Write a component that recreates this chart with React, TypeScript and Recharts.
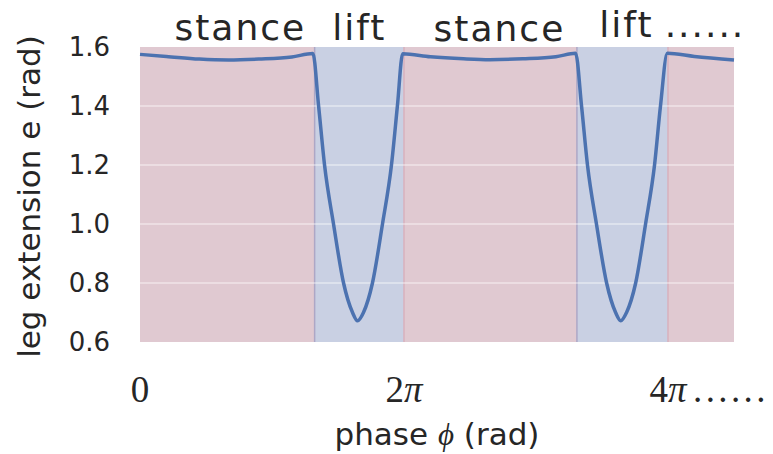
import { LineChart, Line, XAxis, YAxis, ReferenceArea, ReferenceLine } from 'recharts'

// phase in units of π, leg extension e in rad
const PHASE = [
  0, 0.2, 0.45, 0.67, 0.9, 1.15, 1.31,
  1.353, 1.398, 1.466, 1.542, 1.61, 1.648, 1.693, 1.761, 1.837, 1.905, 1.95, 1.99,
  2.2, 2.45, 2.65, 2.9, 3.15, 3.3,
  3.345, 3.39, 3.458, 3.535, 3.603, 3.642, 3.686, 3.755, 3.83, 3.898, 3.943, 3.995,
  4.2, 4.5,
]
const EXTENSION = [
  1.575, 1.568, 1.559, 1.556, 1.559, 1.566, 1.578,
  1.4, 1.2, 1.0, 0.8, 0.7, 0.672, 0.7, 0.8, 1.0, 1.2, 1.4, 1.577,
  1.567, 1.56, 1.557, 1.56, 1.567, 1.579,
  1.4, 1.2, 1.0, 0.8, 0.7, 0.672, 0.7, 0.8, 1.0, 1.2, 1.4, 1.579,
  1.568, 1.556,
]

// gait phases shaded behind the curve
const REGION_KIND = ['stance', 'lift', 'stance', 'lift', 'stance']
const REGION_START = [0, 1.323, 2.0, 3.31, 4.0]
const REGION_END = [1.323, 2.0, 3.31, 4.0, 4.5]
const REGION_LABELS = ['stance', 'lift', 'stance', 'lift', '......']

const Y_TICKS = [0.6, 0.8, 1.0, 1.2, 1.4, 1.6]
const GRID_Y = [0.8, 1.0, 1.2, 1.4]
const X_TICKS = [0, 2, 4]
const X_TICK_LABELS = ['0', '2', '4']

const FILL: Record<string, string> = { stance: '#e0c9d1', lift: '#c9d0e3' }
const EDGE: Record<string, string> = { stance: '#d8b1bc', lift: '#ada7c6' }
const LABEL_DX = [13, 0, 9, 4, 4]
const LABEL_LIFT = [7, 7, 6, 10, 10]

const TEXT = '#262626'
const SANS = '"DejaVu Sans", sans-serif'
const SERIF = '"Liberation Serif", "DejaVu Serif", serif'

const data = PHASE.map((p, i) => ({ phase: p, e: EXTENSION[i] }))

function PhaseTick(props: any) {
  const { x, y, payload } = props
  const idx = X_TICKS.indexOf(payload.value)
  const txt = X_TICK_LABELS[idx]
  return (
    <g>
      <text x={x} y={y + 60} textAnchor="middle" fill={TEXT} fontFamily={SERIF} fontSize={37}>
        {txt}
        {txt !== '0' && <tspan fontStyle="italic">π</tspan>}
      </text>
      {payload.value === 4 && (
        <text x={x + 25} y={y + 60} fill={TEXT} fontFamily={SERIF} fontSize={37} letterSpacing={3.4}>
          ......
        </text>
      )}
    </g>
  )
}

const regionLabel = (i: number) => (props: any) => {
  const vb = props.viewBox
  return (
    <text
      x={vb.x + vb.width / 2 + LABEL_DX[i]}
      y={vb.y - LABEL_LIFT[i]}
      textAnchor="middle"
      fill={TEXT}
      fontFamily={SANS}
      fontSize={36}
      letterSpacing={2}
    >
      {REGION_LABELS[i]}
    </text>
  )
}

const yLabel = (props: any) => {
  const vb = props.viewBox
  const x = vb.x + 29
  const y = vb.y + vb.height / 2 + 2
  return (
    <text
      x={x}
      y={y}
      dy="0.355em"
      transform={`rotate(-90, ${x}, ${y})`}
      textAnchor="middle"
      fill={TEXT}
      fontFamily={SANS}
      fontSize={31}
    >
      leg extension e (rad)
    </text>
  )
}

const xLabel = (props: any) => {
  const vb = props.viewBox
  return (
    <text
      x={vb.x + vb.width / 2}
      y={vb.y + 103}
      textAnchor="middle"
      fill={TEXT}
      fontFamily={SANS}
      fontSize={31}
    >
      phase <tspan fontFamily={SERIF} fontStyle="italic">ϕ</tspan> (rad)
    </text>
  )
}

export default function App() {
  return (
    <div style={{ position: 'absolute', left: 0, top: 0, background: '#fff' }}>
      <LineChart
        width={773}
        height={454}
        data={data}
        margin={{ top: 47, right: 39, left: 0, bottom: 0 }}
      >
        <XAxis
          dataKey="phase"
          type="number"
          domain={[0, 4.5]}
          ticks={X_TICKS}
          tick={<PhaseTick />}
          tickLine={false}
          axisLine={false}
          tickSize={0}
          tickMargin={0}
          height={112}
          label={xLabel}
        />
        <YAxis
          domain={[0.6, 1.6]}
          ticks={Y_TICKS}
          tickFormatter={(v: number) => v.toFixed(1)}
          tick={{ fill: TEXT, fontSize: 26, fontFamily: SANS }}
          tickLine={false}
          axisLine={false}
          tickSize={0}
          tickMargin={30}
          width={140}
          label={yLabel}
        />

        {REGION_KIND.map((kind, i) => (
          <ReferenceArea
            key={`area-${i}`}
            x1={REGION_START[i]}
            x2={REGION_END[i]}
            fill={FILL[kind]}
            fillOpacity={1}
            stroke="none"
            label={regionLabel(i)}
          />
        ))}

        {/* edges between phases */}
        {REGION_KIND.map((kind, i) =>
          i === 0 ? null : (
            <ReferenceLine key={`edge-${i}`} x={REGION_START[i]} stroke={EDGE[kind]} strokeWidth={1.5} />
          )
        )}

        {/* faint grid showing through the shading */}
        {GRID_Y.map((v) => (
          <ReferenceLine key={`grid-${v}`} y={v} stroke="#ffffff" strokeOpacity={0.5} strokeWidth={1.5} />
        ))}

        <Line
          type="monotone"
          dataKey="e"
          stroke="#4c72b0"
          strokeWidth={3.5}
          dot={false}
          isAnimationActive={false}
        />
      </LineChart>
    </div>
  )
}
